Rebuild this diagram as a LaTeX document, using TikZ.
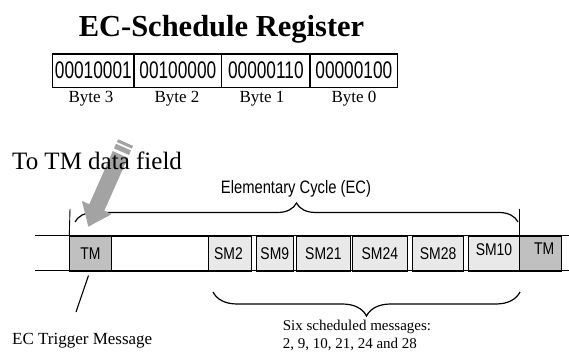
\documentclass[tikz,border=0pt]{standalone}
\usepackage{fontspec}
\setmainfont{Liberation Serif}
\newfontfamily\regfont[FakeStretch=0.72]{Liberation Sans}
\newfontfamily\tlfont[FakeStretch=0.82]{Liberation Sans}
\usetikzlibrary{decorations.pathreplacing}
\definecolor{tmgray}{RGB}{192,192,192}
\definecolor{smgray}{RGB}{233,233,233}
\definecolor{arrowgray}{RGB}{163,163,163}
\begin{document}
\begin{tikzpicture}[x=1pt,y=-1pt,
  regcell/.style={draw, line width=1.4pt, minimum height=33.4pt, inner sep=0pt, anchor=north west, font=\regfont\fontsize{24}{26}\selectfont},
  bytelab/.style={anchor=base, inner sep=0pt, font=\fontsize{17}{19}\selectfont},
  tlbox/.style={draw, line width=0.9pt, minimum height=35pt, inner sep=0pt, anchor=north west},
  tmbox/.style={tlbox, fill=tmgray},
  smbox/.style={tlbox, fill=smgray},
  tltext/.style={inner sep=0pt, font=\tlfont\fontsize{17}{19}\selectfont},
  bracestyle/.style={decorate, line width=1.2pt},
  serifnote/.style={anchor=base west, inner sep=0pt}
]
\useasboundingbox (0,0) rectangle (569,352);

% Title and register
\node[anchor=base, inner sep=0pt, font=\bfseries\fontsize{30.5}{32}\selectfont] (title) at (221.5,36.5) {EC-Schedule Register};
\node[regcell, minimum width=81.3pt] (b3) at (52,53.3) {00010001};
\node[regcell, minimum width=87.7pt] (b2) at (133.3,53.3) {00100000};
\node[regcell, minimum width=88.3pt] (b1) at (221,53.3) {00000110};
\node[regcell, minimum width=87.7pt] (b0) at (309.3,53.3) {00000100};
\node[bytelab] (l3) at (91,103) {Byte 3};
\node[bytelab] (l2) at (177,103) {Byte 2};
\node[bytelab] (l1) at (262,103) {Byte 1};
\node[bytelab] (l0) at (354,103) {Byte 0};

% Timeline
\coordinate (lineL1) at (35,235.7);
\coordinate (lineR1) at (569,235.7);
\coordinate (lineL2) at (35,270.7);
\coordinate (lineR2) at (569,270.7);
\node[tmbox, minimum width=41.4pt] (tm1) at (69.3,235.7) {};
\node[tlbox, minimum width=97.6pt] (gap) at (110.7,235.7) {};
\node[smbox, minimum width=42.4pt] (sm2) at (208.3,235.7) {};
\node[smbox, minimum width=36.7pt] (sm9) at (256,235.7) {};
\node[smbox, minimum width=54pt] (sm21) at (296,235.7) {};
\node[smbox, minimum width=54.7pt] (sm24) at (352,235.7) {};
\node[smbox, minimum width=50.7pt] (sm28) at (412.3,235.7) {};
\node[smbox, minimum width=51.6pt] (sm10) at (467.7,235.7) {};
\node[tmbox, minimum width=41.7pt] (tm2) at (519.3,235.7) {};
\draw[line width=1.4pt] (lineL1) -- (lineR1);
\draw[line width=1.4pt] (lineL2) -- (lineR2);

\node[tltext] (t1) at (tm1.center) {TM};
\node[tltext] (t2) at ([xshift=-1.5pt]sm2.center) {SM2};
\node[tltext] (t3) at (sm9.center) {SM9};
\node[tltext] (t4) at (sm21.center) {SM21};
\node[tltext] (t5) at (sm24.center) {SM24};
\node[tltext] (t6) at (sm28.center) {SM28};
\node[tltext] (t7) at ([yshift=4pt]sm10.center) {SM10};
\node[tltext] (t8) at ([xshift=3.5pt,yshift=4.5pt]tm2.center) {TM};

% Ticks
\coordinate (tickL) at (70,209);
\coordinate (tickR) at (519.3,209);
\draw[line width=0.9pt] (tickL) -- (tm1.north west);
\draw[line width=1.2pt] (tickR) -- (tm2.north west);

% Braces
\coordinate (bA) at (75,222);
\coordinate (bB) at (518,222);
\draw[bracestyle, decoration={brace, amplitude=19pt}] (bA) -- (bB);
\coordinate (cA) at (213,292);
\coordinate (cB) at (520,292);
\draw[bracestyle, decoration={brace, amplitude=24pt}] (cB) -- (cA);

\node[anchor=base, inner sep=0pt, font=\tlfont\fontsize{18}{20}\selectfont] (ec) at (296,194) {Elementary Cycle (EC)};

% Big gray striped arrow
\fill[arrowgray] (88.3,226.7) -- (111.7,214.1) -- (104.3,210.8) -- (127.8,157.8)
  -- (112.8,151.1) -- (89.3,204.2) -- (81.9,200.9) -- cycle;
\fill[arrowgray] (129.0,155.0) -- (131.0,150.4) -- (116.0,143.8) -- (114.0,148.4) -- cycle;
\fill[arrowgray] (131.8,148.6) -- (133.1,145.9) -- (118.1,139.3) -- (116.8,142.0) -- cycle;

\node[serifnote, font=\fontsize{25}{27}\selectfont] (tmfield) at (12,170) {To TM data field};

% EC trigger message
\node[serifnote, font=\fontsize{17}{19}\selectfont] (trig) at (12,344) {EC Trigger Message};
\coordinate (trigA) at (88.5,275.5);
\coordinate (trigB) at (76,312);
\draw[line width=1.1pt] (trigA) -- (trigB);

% Six scheduled messages
\node[serifnote, font=\fontsize{15}{17}\selectfont] (six1) at (282.6,330) {Six scheduled messages:};
\node[serifnote, font=\fontsize{15}{17}\selectfont] (six2) at (282.6,348.5) {2, 9, 10, 21, 24 and 28};
\end{tikzpicture}
\end{document}
